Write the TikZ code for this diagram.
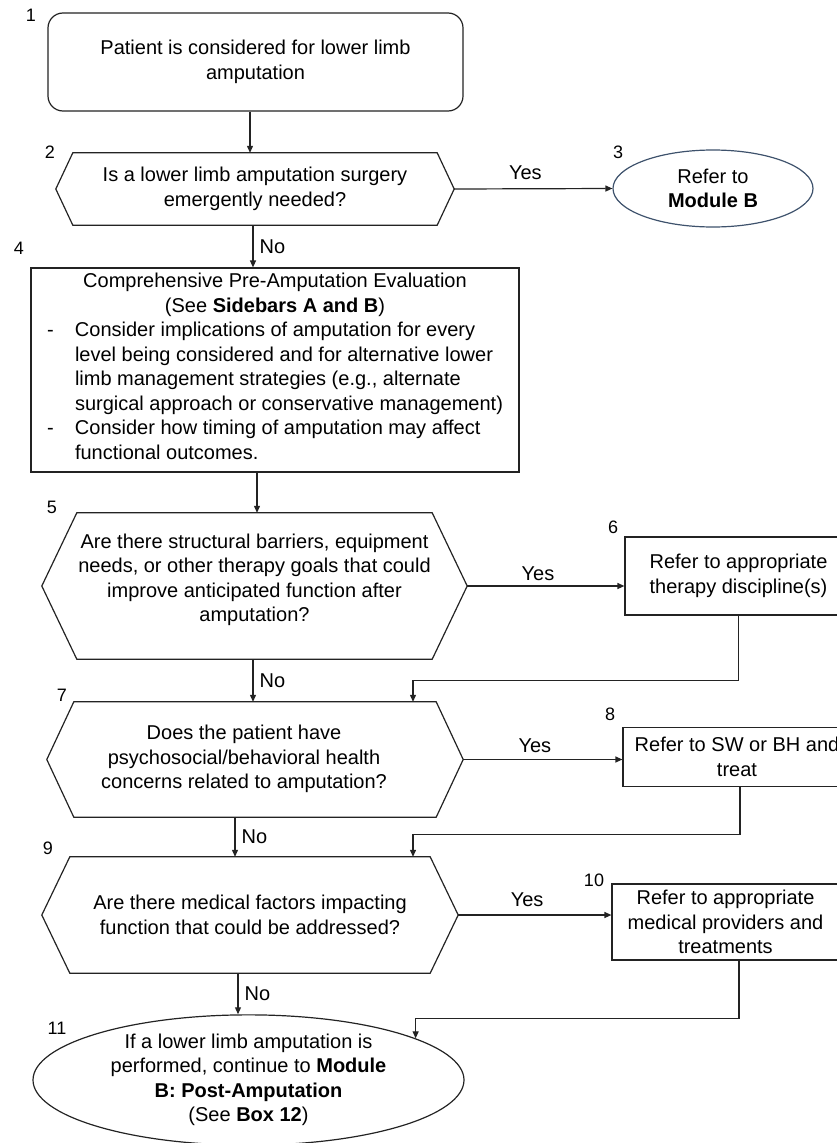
\documentclass[tikz,border=0pt]{standalone}
\usepackage{fontspec}
\setmainfont{Liberation Sans}
\usepackage{xcolor}
\usetikzlibrary{arrows.meta,shapes.geometric}

\definecolor{edgegray}{RGB}{35,35,35}
\definecolor{moduleblue}{RGB}{62,82,108}

\newcommand{\hexframe}[2]{%
  \draw[outline] (#1.west) -- ([xshift=#2]#1.north west) -- ([xshift=-#2]#1.north east)
    -- (#1.east) -- ([xshift=-#2]#1.south east) -- ([xshift=#2]#1.south west) -- cycle;}

\begin{document}
\begin{tikzpicture}[x=1pt, y=-1pt,
    outline/.style = {draw=edgegray, line width=1.2pt},
    txt/.style = {font=\fontsize{20}{24.5}\selectfont, align=center, inner sep=0pt},
    startbox/.style = {txt, outline, rounded corners=15pt},
    procbox/.style = {txt, outline},
    decision/.style = {txt},
    terminal/.style = {txt, ellipse, outline},
    num/.style = {font=\fontsize{18}{20}\selectfont, inner sep=0pt},
    answer/.style = {font=\fontsize{20}{24}\selectfont, inner sep=0pt},
    arr/.style = {draw=edgegray, line width=1.2pt, -{Triangle[length=7pt,width=6pt]}},
  ]
    \useasboundingbox (0,0) rectangle (837,1143);
    \clip (0,0) rectangle (837,1143);

    \node[startbox, minimum width=415pt, minimum height=98pt] (b1) at (255.5,62)
      {Patient is considered for lower limb\\amputation};

    \node[decision, minimum width=398pt, minimum height=72pt] (d2) at (255,189)
      {Is a lower limb amputation surgery\\emergently needed?};
    \hexframe{d2}{17pt}

    \node[terminal, draw=moduleblue, minimum width=200pt, minimum height=77pt] (c3) at (713,188.5)
      {Refer to\\\textbf{Module B}};

    \node[procbox, minimum width=488pt, minimum height=204pt] (b4) at (275,370)
      {Comprehensive Pre-Amputation Evaluation\\(See \textbf{Sidebars A and B})\\
       \begin{tabular}[t]{@{}p{28pt}@{}l@{}}
         - & Consider implications of amputation for every\\
           & level being considered and for alternative lower\\
           & limb management strategies (e.g., alternate\\
           & surgical approach or conservative management)\\
         - & Consider how timing of amputation may affect\\
           & functional outcomes.
       \end{tabular}};

    \node[decision, minimum width=425pt, minimum height=146pt, text depth=17pt] (d5) at (254.5,586)
      {Are there structural barriers, equipment\\needs, or other therapy goals that could\\improve anticipated function after\\amputation?};
    \hexframe{d5}{35pt}

    \node[procbox, minimum width=227pt, minimum height=78pt] (b6) at (738.5,576)
      {Refer to appropriate\\therapy discipline(s)};

    \node[decision, minimum width=416pt, minimum height=115pt] (d7) at (255,759.5)
      {\begin{tabular}{@{}c@{}}Does the patient have\\psychosocial/behavioral health\\concerns related to amputation?\end{tabular}\hspace*{22pt}};
    \hexframe{d7}{27pt}

    \node[procbox, minimum width=228pt, minimum height=58.5pt] (b8) at (737,757)
      {Refer to SW or BH and\\treat};

    \node[decision, minimum width=416pt, minimum height=116pt] (d9) at (250,915)
      {Are there medical factors impacting\\function that could be addressed?};
    \hexframe{d9}{28pt}

    \node[procbox, minimum width=227pt, minimum height=76pt] (b10) at (725.5,922)
      {Refer to appropriate\\medical providers and\\treatments};

    \node[terminal, minimum width=431pt, minimum height=130pt] (e11) at (248.5,1080)
      {If a lower limb amputation is\\performed, continue to \textbf{Module}\\\textbf{B: Post-Amputation}\\(See \textbf{Box 12})};

    \node[num] (n1) at (31,15) {1};
    \node[num] (n2) at (50,152) {2};
    \node[num] (n3) at (618,152) {3};
    \node[num] (n4) at (19,248) {4};
    \node[num] (n5) at (52,507) {5};
    \node[num] (n6) at (613,527) {6};
    \node[num] (n7) at (62,695) {7};
    \node[num] (n8) at (610,714) {8};
    \node[num] (n9) at (48,848) {9};
    \node[num] (n10) at (594,880) {10};
    \node[num] (n11) at (57,1028) {11};

    \draw[arr] ([xshift=-5.5pt]b1.south) -- ([xshift=-5pt]d2.north);
    \draw[arr] (d2.east) -- node[answer, above=8pt, pos=0.45] (yes2) {Yes} (c3.west);
    \draw[arr] ([xshift=-2pt]d2.south) -- node[answer, right=6pt] (no2) {No} ([xshift=-22pt]b4.north);
    \draw[arr] ([xshift=-18pt]b4.south) -- ([xshift=2.5pt]d5.north);

    \draw[arr] (d5.east) -- node[answer, above=5pt, pos=0.45] (yes5) {Yes} (d5.east -| b6.west);
    \draw[arr] (b6.south) -- ++(0,65) -| ([xshift=158pt]d7.north);
    \draw[arr] ([xshift=-1.5pt]d5.south) -- node[answer, right=6pt] (no5) {No} ([xshift=-2pt]d7.north);

    \draw[arr] (d7.east) -- node[answer, above=6pt, pos=0.45] (yes7) {Yes} (d7.east -| b8.west);
    \draw[arr] ([xshift=3pt]b8.south) -- ++(0,48) -| ([xshift=163pt]d9.north);
    \draw[arr] ([xshift=-20pt]d7.south) -- node[answer, right=6pt] (no7) {No} ([xshift=-15pt]d9.north);

    \draw[arr] (d9.east) -- node[answer, above=8pt, pos=0.45] (yes9) {Yes} (d9.east -| b10.west);
    \draw[arr] ([xshift=13.5pt]b10.south) -- ++(0,58) -| (e11.14);
    \draw[arr] ([xshift=-12pt]d9.south) -- node[answer, right=6pt] (no9) {No} ([xshift=-10.5pt]e11.north);
\end{tikzpicture}
\end{document}
